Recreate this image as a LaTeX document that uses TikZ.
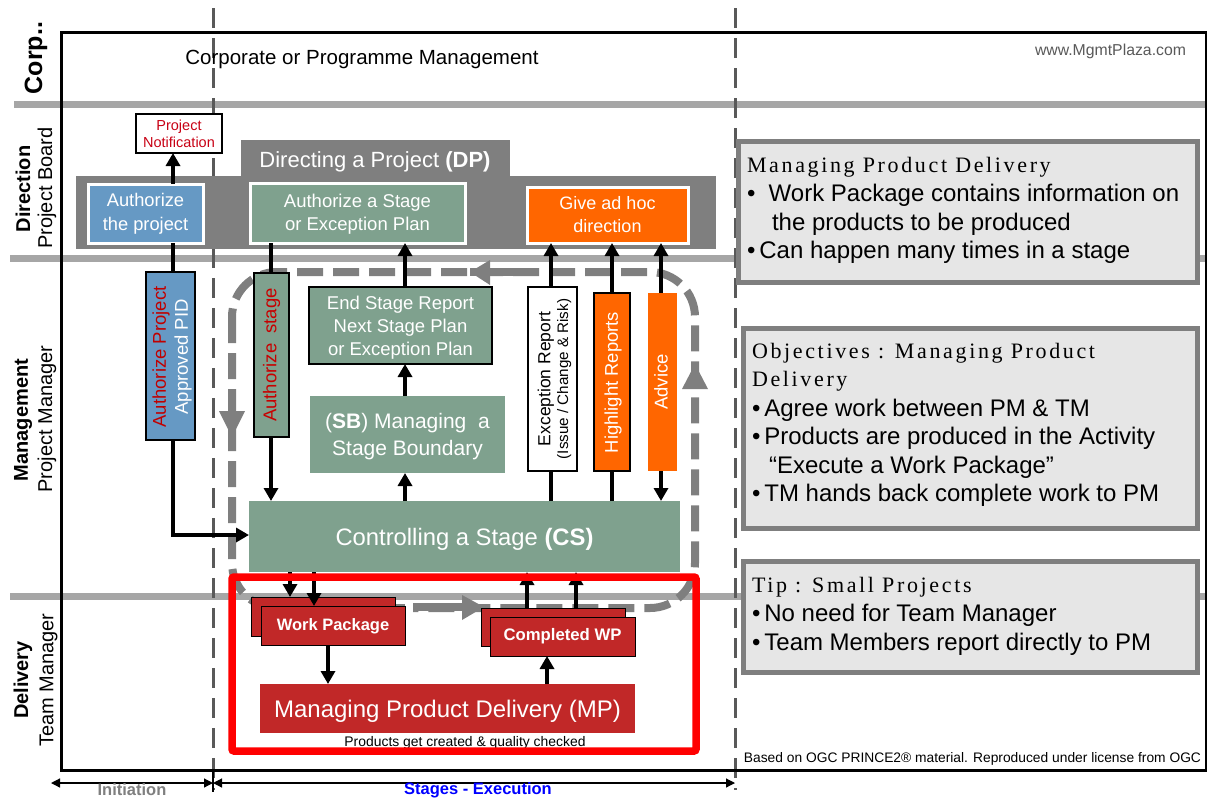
\documentclass[tikz,border=0pt]{standalone}
\usepackage{fontspec}
\setmainfont{Liberation Sans}
\newfontfamily\spacedserif[LetterSpace=12]{Liberation Serif}
\usetikzlibrary{arrows.meta}
\definecolor{bandgray}{HTML}{A6A6A6}
\definecolor{dashgray}{HTML}{595959}
\definecolor{darkgray}{HTML}{7F7F7F}
\definecolor{sage}{HTML}{7FA18E}
\definecolor{steel}{HTML}{6699C4}
\definecolor{orng}{HTML}{FF6600}
\definecolor{crimson}{HTML}{C12828}
\definecolor{notegray}{HTML}{E6E6E6}
\newcommand{\fs}[1]{\fontsize{#1}{#1}\selectfont}
\newcommand{\fsl}[2]{\fontsize{#1}{#2}\selectfont}
\newcommand{\dn}[1]{\rule{0pt}{#1}}
\newcommand{\pbox}[7][]{\node[rectangle,inner sep=0pt,outer sep=0pt,minimum width={#4-#2},minimum height={#5-#3},align=center,#6] (#1) at ({(#2+#4)/2},{(#3+#5)/2}) {#7};}
\tikzset{
 x=1pt,y=-1pt,
 band/.style={bandgray,line width=7pt},
 phase/.style={dashgray,line width=3pt,dash pattern=on 20pt off 10pt},
 lbl/.style={inner sep=0pt,outer sep=0pt,align=center},
 vlbl/.style={lbl,rotate=90},
 whitebox/.style={fill=#1,draw=white,line width=3pt,text=white},
 blackbox/.style={fill=#1,draw=black,line width=2.5pt},
 plainbox/.style={fill=#1,text=white},
 redcard/.style={fill=crimson,draw=black,line width=1pt,text=white},
 note/.style={fill=notegray,draw=darkgray,line width=5pt},
 notetext/.style={lbl,anchor=base west},
 conn/.style={black,line width=3.5pt},
 flow/.style={conn,-{Triangle[width=14pt,length=13pt]}},
 thin arrow/.style={black,line width=1.2pt,{Triangle[width=9pt,length=9pt]}-{Triangle[width=9pt,length=9pt]}},
}
\begin{document}
\begin{tikzpicture}
\useasboundingbox (0,0) rectangle (1207,798);
% swimlanes
\coordinate (b1l) at (14,104); \coordinate (b1r) at (1207,104);
\coordinate (b2l) at (10,258); \coordinate (b2r) at (1207,258);
\coordinate (b3l) at (10,596); \coordinate (b3r) at (1207,596);
\draw[band] (b1l) -- (b1r);
\draw[band] (b2l) -- (b2r);
\draw[band] (b3l) -- (b3r);
\coordinate (p1t) at (213,8); \coordinate (p1b) at (213,790);
\coordinate (p2t) at (735,8); \coordinate (p2b) at (735,790);
\draw[phase] (p1t) -- (p1b);
\draw[phase] (p2t) -- (p2b);
\draw[black,line width=3pt] (61,32) rectangle (1206,770);
% stage loop
\draw[darkgray,line width=8pt,dash pattern=on 26pt off 10pt,rounded corners=45pt] (232,272) rectangle (695,608);
\draw[darkgray,line width=8pt] (470,272) -- (525,272);
\draw[white,line width=9pt] (405,608) -- (413,608);
\draw[darkgray,line width=8pt] (413,607) -- (470,607);
\fill[darkgray] (470,272) -- (490,260) -- (490,285) -- cycle;
\fill[darkgray] (232,437) -- (219,411) -- (245,411) -- cycle;
\fill[darkgray] (695,364) -- (682,389) -- (708,389) -- cycle;
\fill[darkgray] (484,607) -- (462,595) -- (462,620) -- cycle;
% side labels
\node[vlbl,font=\bfseries\fs{25}] (corp) at (36,58) {Corp..};
\node[vlbl,font=\bfseries\fs{20}] (dirl) at (23,189) {Direction};
\node[vlbl,font=\fs{20}] (pbl) at (47,188) {Project Board};
\node[vlbl,font=\bfseries\fs{20}] (mgl) at (23,420) {Management};
\node[vlbl,font=\fs{20}] (pml) at (47,419) {Project Manager};
\node[vlbl,font=\bfseries\fs{20}] (dll) at (23,680) {Delivery};
\node[vlbl,font=\fs{20}] (tml) at (48.5,680) {Team Manager};
% texts top
\node[lbl,font=\fs{20.5}] (corptxt) at (362,59) {Corporate or Programme Management};
\node[lbl,anchor=east,text=dashgray,font=\fs{15.8}] (web) at (1186,51) {www.MgmtPlaza.com};
% DP block
\fill[darkgray] (76,176) rectangle (716,249);
\fill[darkgray] (241,140) rectangle (510,176);
\node[lbl,text=white,font=\fs{22}] (dp) at (375,162) {Directing a Project \textbf{(DP)}};
\pbox[notif]{136}{114}{222}{153}{fill=white,draw=black,line width=2.5pt,text={rgb,255:red,200;green,0;blue,20},font=\fsl{14.5}{17}}{\dn{11pt}Project\\Notification}
\pbox[authp]{88}{184}{203}{243}{whitebox=steel,font=\fsl{18.3}{24}}{\dn{14.5pt}Authorize\\the project}
\pbox[auths]{250}{183}{465}{243}{whitebox=sage,font=\fsl{18.5}{23}}{\dn{15.5pt}Authorize a Stage\\or Exception Plan}
\pbox[give]{527}{187}{688}{243}{whitebox=orng,font=\fsl{18}{23}}{Give ad hoc\\direction}
% management boxes
\pbox[pid]{146}{272}{195}{440}{blackbox=steel}{}
\node[vlbl,font=\fsl{18.5}{22}] (pidt) at (172,357) {\textcolor[HTML]{C00000}{Authorize Project}\\\textcolor{white}{Approved PID}};
\pbox[astage]{254}{273}{289}{437}{blackbox=sage}{}
\node[vlbl,font=\fs{18.5},text={rgb,255:red,200;green,0;blue,0}] (astaget) at (astage.center) {Authorize\ \ stage};
\pbox[esr]{309}{287}{492}{364}{blackbox=sage,text=white,font=\fsl{18.5}{23}}{\dn{17.5pt}End Stage Report\\Next Stage Plan\\or Exception Plan}
\pbox[sb]{310}{396}{505}{473}{plainbox=sage,font=\fsl{21}{27}}{\dn{19pt}(\textbf{SB}) Managing\ \ a\\Stage Boundary}
\pbox[exc]{528}{287}{577}{471}{blackbox=white}{}
\node[vlbl] (exct) at (554.5,379) {{\fs{17.5}Exception Report}\\[2pt]{\fs{15.2}(Issue / Change \& Risk)}};
\pbox[hl]{594}{293}{630}{471}{blackbox=orng}{}
\node[vlbl,font=\fs{18.4},text=white] (hlt) at (613,382.5) {Highlight Reports};
\pbox[adv]{648}{293}{677}{471}{plainbox=orng}{}
\node[vlbl,font=\fs{18.5},text=white] (advt) at (661,382) {Advice};
\pbox[cs]{249}{501}{680}{572}{plainbox=sage,font=\fs{23.8}}{\dn{23pt}Controlling a Stage \textbf{(CS)}}
% delivery boxes
\pbox[wpb]{251}{597}{395}{636}{redcard}{}
\pbox[wp]{261}{606}{405}{645}{redcard,font=\bfseries\fs{16.5}}{\dn{14pt}Work Package}
\pbox[cwb]{481}{608}{625}{646}{redcard}{}
\pbox[cw]{490}{617}{635}{656}{redcard,font=\bfseries\fs{16.7}}{Completed WP}
\pbox[mp]{260}{684}{635}{733}{plainbox=crimson,font=\fs{24}}{\dn{22pt}Managing Product Delivery (MP)}
\node[lbl,font=\fs{13.9}] (prod) at (465,743) {Products get created \& quality checked};
% x positions of connectors
\coordinate (xa) at (173,0); \coordinate (xb) at (271,0); \coordinate (xc) at (405,0);
\coordinate (xd) at (551,0); \coordinate (xe) at (612,0); \coordinate (xf) at (661,0);
\coordinate (xg) at (290,0); \coordinate (xh) at (314,0); \coordinate (xi) at (527,0);
\coordinate (xj) at (576,0); \coordinate (xk) at (328,0); \coordinate (xl) at (547,0);
% connectors
\draw[flow] (authp.north -| xa) -- (notif.south -| xa);
\draw[conn] (pid.north -| xa) -- (authp.south -| xa);
\draw[flow] (pid.south -| xa) |- (cs.west |- 0,535);
\draw[conn] (auths.south -| xb) -- (astage.north -| xb);
\draw[flow] (astage.south -| xb) -- (cs.north -| xb);
\draw[flow] (cs.north -| xc) -- (sb.south -| xc);
\draw[flow] (sb.north -| xc) -- (esr.south -| xc);
\draw[flow] (esr.north -| xc) -- (auths.south -| xc);
\draw[conn] (cs.north -| xd) -- (exc.south -| xd);
\draw[flow] (exc.north -| xd) -- (give.south -| xd);
\draw[conn] (cs.north -| xe) -- (hl.south -| xe);
\draw[flow] (hl.north -| xe) -- (give.south -| xe);
\draw[flow] (adv.north -| xf) -- (give.south -| xf);
\draw[flow] (adv.south -| xf) -- (cs.north -| xf);
\draw[flow] (cs.south -| xg) -- (wpb.north -| xg);
\draw[flow] (cs.south -| xh) -- (wp.north -| xh);
\draw[flow] (cwb.north -| xi) -- (cs.south -| xi);
\draw[flow] (cwb.north -| xj) -- (cs.south -| xj);
\draw[flow] (wp.south -| xk) -- (mp.north -| xk);
\draw[flow] (mp.north -| xl) -- (cw.south -| xl);
% delivery frame
\draw[red,line width=7.5pt,rounded corners=2pt] (232,577) rectangle (696,751);
% timeline
\coordinate (t0) at (51,783); \coordinate (t1) at (213,783); \coordinate (t2) at (735,783);
\coordinate (tt) at (213,770); \coordinate (tb) at (213,792);
\draw[black,line width=1.5pt] (tt) -- (tb);
\draw[thin arrow] (t0) -- (t1);
\draw[thin arrow] (t1) -- (t2);
\node[lbl,font=\bfseries\fs{16.5},text=darkgray] (init) at (132,790) {Initiation};
\node[lbl,font=\bfseries\fs{16.5},text=blue] (stages) at (478,790) {Stages - Execution};
\node[lbl,anchor=east,font=\fs{13.8}] (ogc) at (1201,759) {Based on OGC PRINCE2® material. Reproduced under license from OGC};
% notes
\pbox[noteA]{738}{141}{1197}{282}{note}{}
\node[notetext,font=\spacedserif\fs{22}] (a1) at (747,172) {Managing Product Delivery};
\node[notetext,font=\fs{24}] (a2) at (747,201) {•\ \ Work Package contains information on};
\node[notetext,font=\fs{24}] (a3) at (772,230) {the products to be produced};
\node[notetext,font=\fs{24}] (a4) at (747,258) {•\,Can happen many times in a stage};
\pbox[noteB]{743}{328}{1197}{528}{note}{}
\node[notetext,font=\spacedserif\fs{22}] (b1) at (752,358) {Objectives : Managing Product};
\node[notetext,font=\spacedserif\fs{22}] (b2) at (752,386) {Delivery};
\node[notetext,font=\fs{24}] (b3) at (752,416) {•\,Agree work between PM \& TM};
\node[notetext,font=\fs{24}] (b4) at (752,444) {•\,Products are produced in the Activity};
\node[notetext,font=\fs{24}] (b5) at (769,473) {“Execute a Work Package”};
\node[notetext,font=\fs{24}] (b6) at (752,501) {•\,TM hands back complete work to PM};
\pbox[noteC]{743}{561}{1197}{672}{note}{}
\node[notetext,font=\spacedserif\fs{22}] (c1) at (752,592) {Tip : Small Projects};
\node[notetext,font=\fs{24}] (c2) at (752,621) {•\,No need for Team Manager};
\node[notetext,font=\fs{24}] (c3) at (752,650) {•\,Team Members report directly to PM};
\end{tikzpicture}
\end{document}
